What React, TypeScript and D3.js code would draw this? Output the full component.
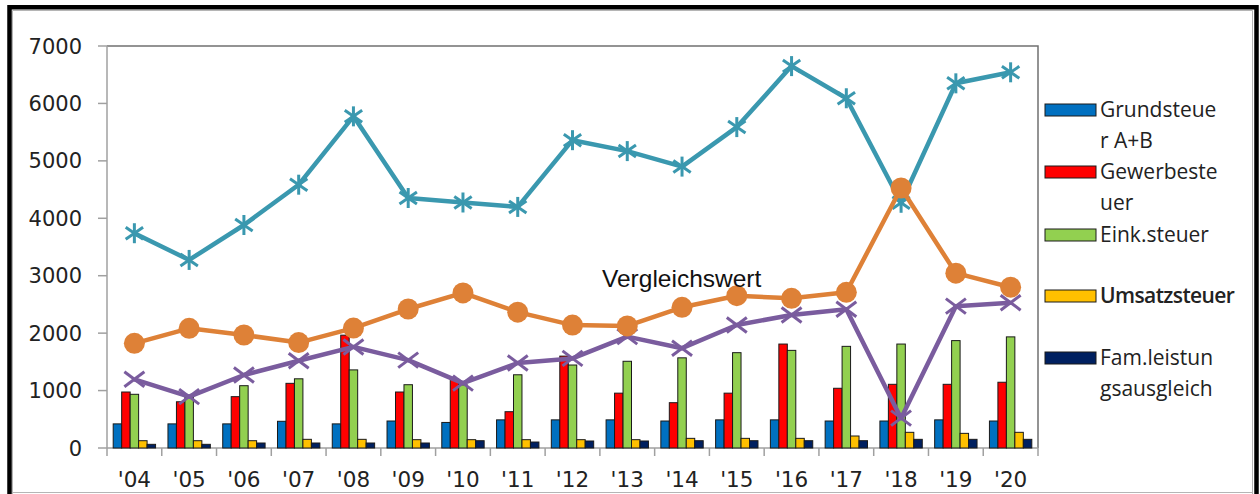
import React from "react";
import * as d3 from "d3";

const categories = ["'04","'05","'06","'07","'08","'09","'10","'11","'12","'13","'14","'15","'16","'17","'18","'19","'20"];

const grundsteuer = [420, 420, 420, 465, 420, 470, 445, 490, 490, 490, 470, 490, 490, 470, 470, 490, 470];
const gewerbesteuer = [975, 805, 894, 1126, 1965, 975, 1200, 632, 1600, 955, 789, 955, 1810, 1040, 1109, 1109, 1145];
const einkSteuer = [935, 880, 1085, 1205, 1360, 1102, 1100, 1275, 1445, 1510, 1570, 1660, 1700, 1770, 1810, 1870, 1935];
const umsatzsteuer = [127, 127, 127, 151, 151, 145, 145, 145, 145, 145, 168, 168, 168, 209, 273, 255, 273];
const famLeistung = [64, 64, 87, 87, 87, 87, 127, 104, 122, 122, 127, 127, 127, 127, 151, 151, 151];

const starLine = [3740, 3275, 3883, 4585, 5775, 4353, 4275, 4198, 5360, 5170, 4900, 5588, 6650, 6090, 4270, 6350, 6542];
const circleLine = [1823, 2084, 1968, 1836, 2088, 2420, 2700, 2365, 2140, 2126, 2450, 2652, 2606, 2711, 4527, 3045, 2800];
const crossLine = [1196, 894, 1271, 1520, 1760, 1530, 1130, 1480, 1560, 1939, 1738, 2142, 2316, 2415, 520, 2470, 2530];

const yTicks = [0, 1000, 2000, 3000, 4000, 5000, 6000, 7000];

const barSeries = [
  { key: "g", name: ["Grundsteue", "r A+B"], values: grundsteuer, color: "#0070C0" },
  { key: "w", name: ["Gewerbeste", "uer"], values: gewerbesteuer, color: "#FF0000" },
  { key: "e", name: ["Eink.steuer"], values: einkSteuer, color: "#92D050" },
  { key: "u", name: ["Umsatzsteuer"], values: umsatzsteuer, color: "#FFC000" },
  { key: "f", name: ["Fam.leistun", "gsausgleich"], values: famLeistung, color: "#002060" },
];

const PL = 107, PR = 1038, PT = 46, PB = 448;

export default function App() {
  const x = d3.scaleBand<string>().domain(categories).range([PL, PR]).padding(0);
  const bw = x.bandwidth();
  const xi = d3.scaleBand<string>().domain(barSeries.map(s => s.key)).range([6.2, bw - 6.2]).padding(0);
  const y = d3.scaleLinear().domain([0, 7000]).range([PB, PT]);
  const cx = (i: number) => (x(categories[i]) as number) + bw / 2;
  const line = d3.line<number>().x((_, i) => cx(i)).y(d => y(d));

  const cyan = "#3A98AF";
  const orange = "#DE8137";
  const purple = "#7A5C9E";

  const legendY = [110, 172, 235, 296, 358];

  return (
    <svg width={1260} height={494} style={{ position: "absolute", left: 0, top: 0, background: "#fff" }}>
      <rect x={0} y={0} width={1260} height={494} fill="#fff" />
      {/* outer frame */}
      <path d="M9.5,494 L9.5,7.2 L1256.5,7.2 L1256.5,494" fill="none" stroke="#000" strokeWidth={4.5} />
      <path d="M12.5,494 L12.5,10.5 L1252.5,10.5 L1252.5,494" fill="none" stroke="#b5b5b5" strokeWidth={1} />
      <line x1={12} x2={1253} y1={492.5} y2={492.5} stroke="#b5b5b5" strokeWidth={1} />

      {/* plot area border top/right */}
      <path d={`M${PL},${PT} L${PR},${PT} L${PR},${PB}`} fill="none" stroke="#707070" strokeWidth={1.5} />
      {/* axes */}
      <line x1={PL} x2={PL} y1={PT} y2={PB} stroke="#a0a0a0" strokeWidth={1.5} />
      <line x1={PL} x2={PR} y1={PB} y2={PB} stroke="#a0a0a0" strokeWidth={1.5} />
      {yTicks.map(t => (
        <g key={t}>
          <line x1={98} x2={PL} y1={y(t)} y2={y(t)} stroke="#a0a0a0" strokeWidth={1.5} />
          <text x={82} y={y(t)} dy="0.36em" textAnchor="end" fontFamily="DejaVu Sans" fontSize={21} fill="#222">{t}</text>
        </g>
      ))}
      {categories.map((c, i) => (
        <g key={c}>
          <line x1={x(c) as number} x2={x(c) as number} y1={PB} y2={PB + 8} stroke="#a0a0a0" strokeWidth={1.5} />
          <text x={cx(i)} y={487} textAnchor="middle" fontFamily="DejaVu Sans" fontSize={21.5} fill="#222">{c}</text>
        </g>
      ))}
      <line x1={PR} x2={PR} y1={PB} y2={PB + 8} stroke="#a0a0a0" strokeWidth={1.5} />

      {/* bars */}
      {barSeries.map(s => (
        <g key={s.key}>
          {s.values.map((v, i) => (
            <rect key={i} x={(x(categories[i]) as number) + (xi(s.key) as number)} y={y(v)} width={xi.bandwidth()} height={PB - y(v)}
              fill={s.color} stroke="#1a1a1a" strokeWidth={1} />
          ))}
        </g>
      ))}

      {/* cyan star line */}
      <path d={line(starLine) as string} fill="none" stroke={cyan} strokeWidth={4.5} strokeLinejoin="round" />
      {starLine.map((v, i) => {
        const px = cx(i), py = y(v), r = 10;
        return (
          <g key={i} stroke={cyan} strokeWidth={3}>
            <line x1={px - r * 0.87} y1={py - r * 0.6} x2={px + r * 0.87} y2={py + r * 0.6} />
            <line x1={px - r * 0.87} y1={py + r * 0.6} x2={px + r * 0.87} y2={py - r * 0.6} />
            <line x1={px} y1={py - r} x2={px} y2={py + r} />
          </g>
        );
      })}

      {/* purple cross line */}
      <path d={line(crossLine) as string} fill="none" stroke={purple} strokeWidth={4.5} strokeLinejoin="round" />
      {crossLine.map((v, i) => {
        const px = cx(i), py = y(v), r = 10;
        return (
          <g key={i} stroke={purple} strokeWidth={3}>
            <line x1={px - r} y1={py - r * 0.75} x2={px + r} y2={py + r * 0.75} />
            <line x1={px - r} y1={py + r * 0.75} x2={px + r} y2={py - r * 0.75} />
          </g>
        );
      })}

      {/* orange circle line */}
      <path d={line(circleLine) as string} fill="none" stroke={orange} strokeWidth={4.5} strokeLinejoin="round" />
      {circleLine.map((v, i) => (
        <circle key={i} cx={cx(i)} cy={y(v)} r={10.5} fill={orange} />
      ))}

      <text x={602} y={287} fontFamily="Liberation Sans" fontSize={24.5} fill="#111">Vergleichswert</text>

      {/* legend */}
      {barSeries.map((s, k) => (
        <g key={s.key}>
          <rect x={1045} y={legendY[k] - 6} width={51} height={12} fill={s.color} stroke="#1a1a1a" strokeWidth={1} />
          {s.name.map((t, j) => (
            <text key={j} x={1100} y={legendY[k] + 7 + j * 30.5} fontFamily="Open Sans" fontSize={21}
              fontWeight={s.key === "u" ? 600 : 400} letterSpacing={s.key === "u" ? -0.6 : 0} fill="#222">{t}</text>
          ))}
        </g>
      ))}
    </svg>
  );
}
